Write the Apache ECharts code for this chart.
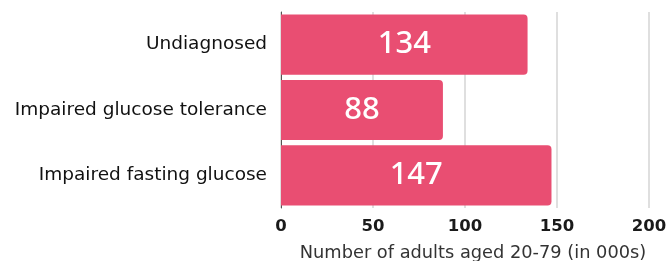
<!DOCTYPE html>
<html><head><meta charset="utf-8">
<script src="https://cdn.jsdelivr.net/npm/echarts@6/dist/echarts.min.js"></script>
<style>html,body{margin:0;padding:0;background:#fff}#c{width:666px;height:261px}</style>
</head><body><div id="c"></div>
<script>
const categories = ["Undiagnosed", "Impaired glucose tolerance", "Impaired fasting glucose"];
const values = [134, 88, 147];
const xTicks = [0, 50, 100, 150, 200];
const axisTitle = "Number of adults aged 20-79 (in 000s)";

const chart = echarts.init(document.getElementById('c'));
chart.setOption({
  animation: false,
  grid: {left: 281, right: 17, top: 12, bottom: 53, containLabel: false, outerBoundsMode: 'none'},
  xAxis: {
    type: 'value', min: xTicks[0], max: xTicks[xTicks.length-1], interval: 50,
    name: axisTitle, nameLocation: 'middle', nameGap: 36,
    nameTextStyle: {fontFamily: 'DejaVu Sans', fontSize: 17.8, color: '#333', padding: [0, 0, 0, 16]},
    axisLine: {show: false}, axisTick: {show: false},
    axisLabel: {fontFamily: 'DejaVu Sans', fontWeight: 'bold', fontSize: 16.5, color: '#1a1a1a', margin: 10},
    splitLine: {show: true, lineStyle: {color: '#d4d4d4', width: 1.5}}
  },
  yAxis: {
    type: 'category', data: categories, inverse: true,
    axisLine: {show: true, lineStyle: {color: '#555', width: 1}},
    axisTick: {show: false},
    axisLabel: {fontFamily: 'DejaVu Sans', fontSize: 18.5, color: '#111', margin: 14}
  },
  series: [{
    type: 'bar', data: values, barCategoryGap: '8%',
    itemStyle: {color: '#E94E72', borderRadius: [0, 4, 4, 0]},
    label: {show: true, position: 'inside', color: '#fff', fontFamily: 'Noto Sans', fontSize: 31, fontWeight: 500}
  }]
});
</script></body></html>
